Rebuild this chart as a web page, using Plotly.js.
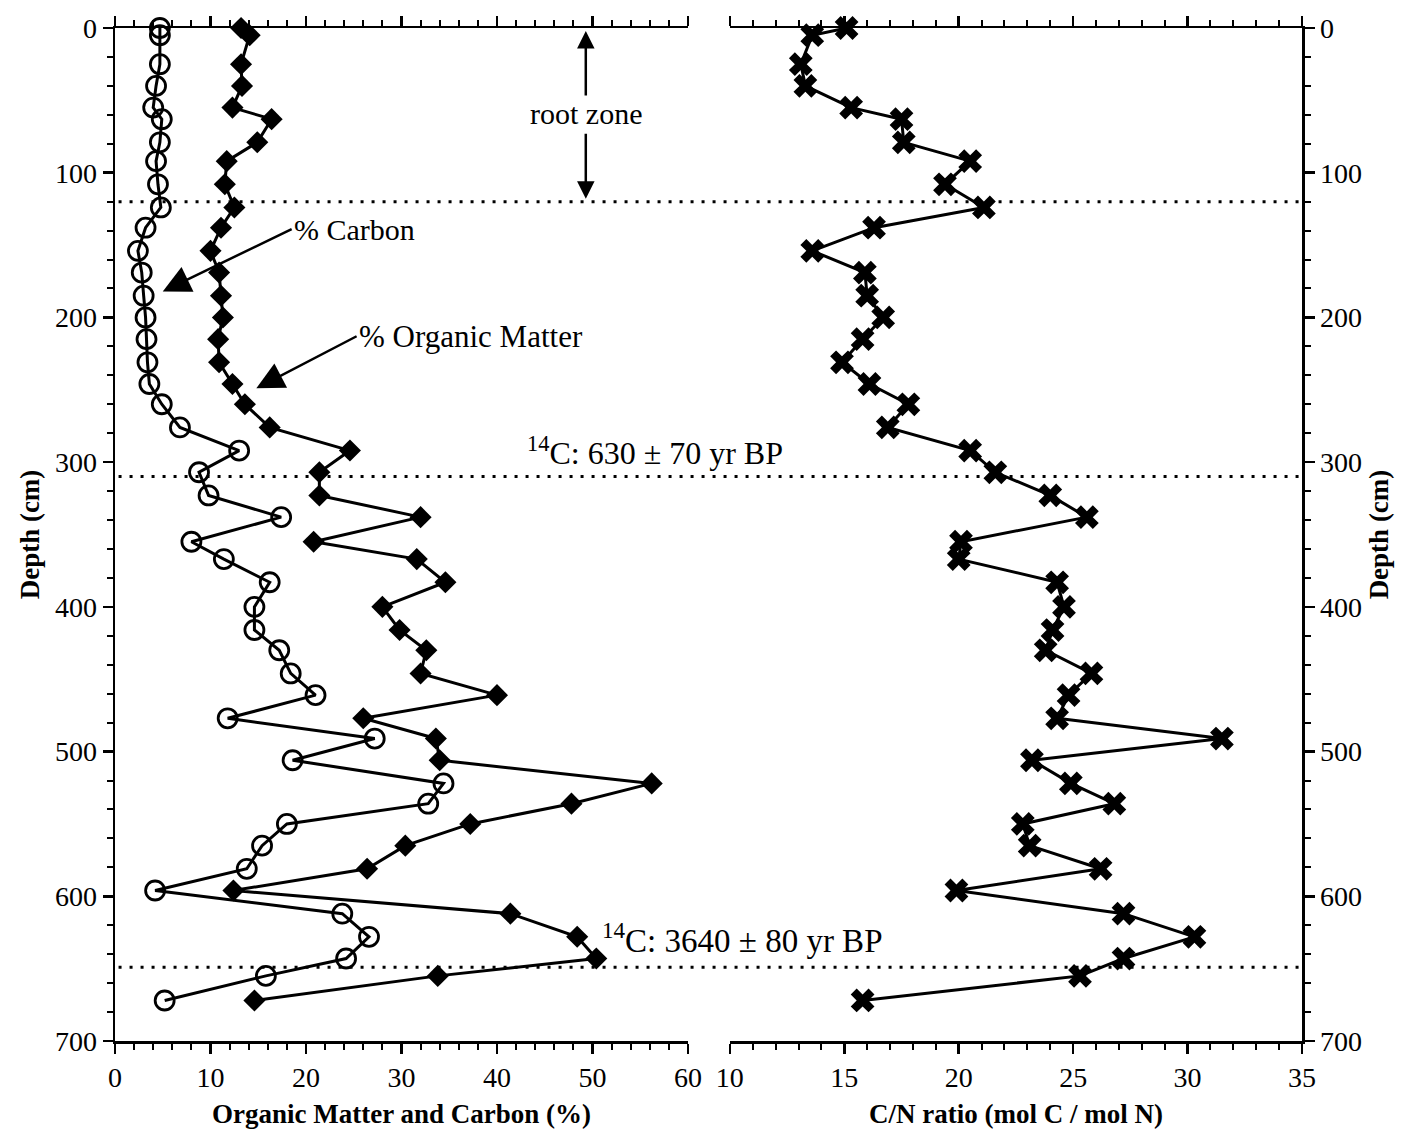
<!DOCTYPE html>
<html>
<head>
<meta charset="utf-8">
<script src="https://cdn.plot.ly/plotly-3.0.1.min.js"></script>
<style>
  html, body { margin: 0; padding: 0; background: #fff; }
  #chart { width: 1406px; height: 1134px; }
</style>
</head>
<body>
<div id="chart"></div>
<script>
// Sample depths (cm)
const depth = [0, 5, 25, 40, 55, 63, 79, 92, 108, 124,
  138, 154, 169, 185, 200, 215, 231, 246, 260, 276,
  292, 307, 323, 338, 355, 367, 383, 400, 416, 430,
  446, 461, 477, 491, 506, 522, 536, 550, 565, 581,
  596, 612, 628, 643, 655, 672];

// % Organic Matter
const organicMatter = [13.2, 14.1, 13.2, 13.3, 12.3, 16.4, 14.9, 11.7, 11.5, 12.5,
  11.1, 10.0, 10.9, 11.1, 11.3, 10.8, 10.9, 12.3, 13.6, 16.2,
  24.6, 21.4, 21.4, 32.0, 20.8, 31.6, 34.6, 28.0, 29.8, 32.6,
  32.0, 40.0, 26.0, 33.6, 34.0, 56.2, 47.8, 37.2, 30.4, 26.4,
  12.4, 41.4, 48.4, 50.4, 33.8, 14.6];

// % Carbon
const carbon = [4.7, 4.7, 4.7, 4.3, 4.0, 4.9, 4.7, 4.3, 4.5, 4.8,
  3.2, 2.4, 2.8, 3.0, 3.2, 3.3, 3.4, 3.6, 4.9, 6.8,
  13.0, 8.8, 9.8, 17.4, 8.0, 11.4, 16.2, 14.6, 14.6, 17.2,
  18.4, 21.0, 11.8, 27.2, 18.6, 34.4, 32.8, 18.0, 15.4, 13.8,
  4.2, 23.8, 26.6, 24.2, 15.8, 5.2];

// C/N ratio (mol C / mol N)
const cnRatio = [15.1, 13.6, 13.1, 13.3, 15.3, 17.5, 17.6, 20.5, 19.4, 21.1,
  16.3, 13.6, 15.9, 16.0, 16.7, 15.8, 14.9, 16.1, 17.8, 16.9,
  20.5, 21.6, 24.0, 25.6, 20.1, 20.0, 24.3, 24.6, 24.1, 23.8,
  25.8, 24.8, 24.3, 31.5, 23.2, 24.9, 26.8, 22.8, 23.1, 26.2,
  19.9, 27.2, 30.3, 27.2, 25.3, 15.8];

// Reference horizons (cm)
const horizons = [120, 310, 649];
const horizonLabels = ['', '<sup>14</sup>C: 630 ± 70 yr BP', '<sup>14</sup>C: 3640 ± 80 yr BP'];

const FONT = 'Liberation Serif, Times New Roman, serif';
const BLACK = '#000';

const traces = [
  {
    x: organicMatter, y: depth, xaxis: 'x', yaxis: 'y',
    type: 'scatter', mode: 'lines+markers', name: '% Organic Matter',
    line: {color: BLACK, width: 3},
    marker: {symbol: 'diamond', size: 17, color: BLACK},
    cliponaxis: false
  },
  {
    x: carbon, y: depth, xaxis: 'x', yaxis: 'y',
    type: 'scatter', mode: 'lines+markers', name: '% Carbon',
    line: {color: BLACK, width: 3},
    marker: {symbol: 'circle-open', size: 19, color: BLACK, line: {color: BLACK, width: 2.8}},
    cliponaxis: false
  },
  {
    x: cnRatio, y: depth, xaxis: 'x2', yaxis: 'y2',
    type: 'scatter', mode: 'lines+markers', name: 'C/N',
    line: {color: BLACK, width: 3},
    marker: {symbol: 'x', size: 21, color: BLACK},
    cliponaxis: false
  }
];

const tickFont = {family: FONT, size: 28, color: BLACK};
const titleFont = {family: FONT, size: 27, color: BLACK, weight: 'bold'};

const xCommon = {
  showline: true, linecolor: BLACK, linewidth: 2.5, mirror: 'ticks',
  ticks: 'outside', ticklen: 10, tickwidth: 2.5, tickcolor: BLACK,
  showgrid: false, zeroline: false, tickfont: tickFont,
  fixedrange: true
};
const yCommon = {
  range: [700, 0], autorange: false,
  tickvals: [0, 100, 200, 300, 400, 500, 600, 700],
  showline: true, linecolor: BLACK, linewidth: 2.5, mirror: false,
  ticks: 'outside', ticklen: 10, tickwidth: 2.5, tickcolor: BLACK,
  minor: {dtick: 20, ticks: 'outside', ticklen: 6, tickwidth: 2, tickcolor: BLACK, showgrid: false},
  showgrid: false, zeroline: false, tickfont: tickFont,
  title: {text: 'Depth (cm)', font: titleFont, standoff: 8}
};

const shapes = horizons.map(h => ({
  type: 'line', xref: 'paper', yref: 'y', x0: 0.003, x1: 1, y0: h, y1: h,
  line: {color: BLACK, width: 3, dash: '3px,8px'}, layer: 'below'
}));

const annotations = [
  {xref: 'paper', yref: 'y', x: 0.3454, y: 292, xanchor: 'left', yanchor: 'middle',
   text: horizonLabels[1], showarrow: false, font: {family: FONT, size: 32, color: BLACK}},
  {xref: 'paper', yref: 'y', x: 0.4086, y: 629, xanchor: 'left', yanchor: 'middle',
   text: horizonLabels[2], showarrow: false, font: {family: FONT, size: 33, color: BLACK}},
  // root zone text with upward arrow
  {xref: 'x', yref: 'y', axref: 'x', ayref: 'y', x: 49.3, y: 2, ax: 49.3, ay: 59,
   text: 'root zone', font: {family: FONT, size: 30, color: BLACK},
   showarrow: true, arrowhead: 2, arrowsize: 1.4, arrowwidth: 2.5, arrowcolor: BLACK, standoff: 0},
  // root zone downward arrow
  {xref: 'x', yref: 'y', axref: 'x', ayref: 'y', x: 49.3, y: 118, ax: 49.3, ay: 72, text: '',
   showarrow: true, arrowhead: 2, arrowsize: 1.4, arrowwidth: 2.5, arrowcolor: BLACK},
  // % Carbon label with arrow
  {xref: 'x', yref: 'y', axref: 'x', ayref: 'y', x: 5.0, y: 182, ax: 18.5, ay: 139,
   xanchor: 'left', yanchor: 'middle',
   text: '% Carbon', font: {family: FONT, size: 30, color: BLACK},
   showarrow: true, arrowhead: 2, arrowsize: 2.2, arrowwidth: 2.5, arrowcolor: BLACK},
  // % Organic Matter label with arrow
  {xref: 'x', yref: 'y', axref: 'x', ayref: 'y', x: 14.8, y: 249, ax: 25.3, ay: 213,
   xanchor: 'left', yanchor: 'middle',
   text: '% Organic Matter', font: {family: FONT, size: 31, color: BLACK},
   showarrow: true, arrowhead: 2, arrowsize: 2.2, arrowwidth: 2.5, arrowcolor: BLACK}
];

const layout = {
  width: 1406, height: 1134,
  margin: {l: 115, r: 104, t: 28, b: 93},
  paper_bgcolor: '#fff', plot_bgcolor: '#fff',
  showlegend: false,
  font: {family: FONT, color: BLACK},
  xaxis: Object.assign({}, xCommon, {
    domain: [0, 0.4827], anchor: 'y', range: [0, 60], autorange: false,
    tickvals: [0, 10, 20, 30, 40, 50, 60],
    minor: {dtick: 2, ticks: 'outside', ticklen: 6, tickwidth: 2, tickcolor: BLACK, showgrid: false},
    title: {text: 'Organic Matter and Carbon (%)', font: titleFont, standoff: 12}
  }),
  xaxis2: Object.assign({}, xCommon, {
    domain: [0.518, 1], anchor: 'y2', range: [10, 35], autorange: false,
    tickvals: [10, 15, 20, 25, 30, 35],
    minor: {dtick: 1, ticks: 'outside', ticklen: 6, tickwidth: 2, tickcolor: BLACK, showgrid: false},
    title: {text: 'C/N ratio (mol C / mol N)', font: titleFont, standoff: 12}
  }),
  yaxis: Object.assign({}, yCommon, {anchor: 'x', side: 'left'}),
  yaxis2: Object.assign({}, yCommon, {anchor: 'x2', side: 'right'}),
  shapes: shapes,
  annotations: annotations
};

Plotly.newPlot('chart', traces, layout, {displayModeBar: false, staticPlot: true});
</script>
</body>
</html>
